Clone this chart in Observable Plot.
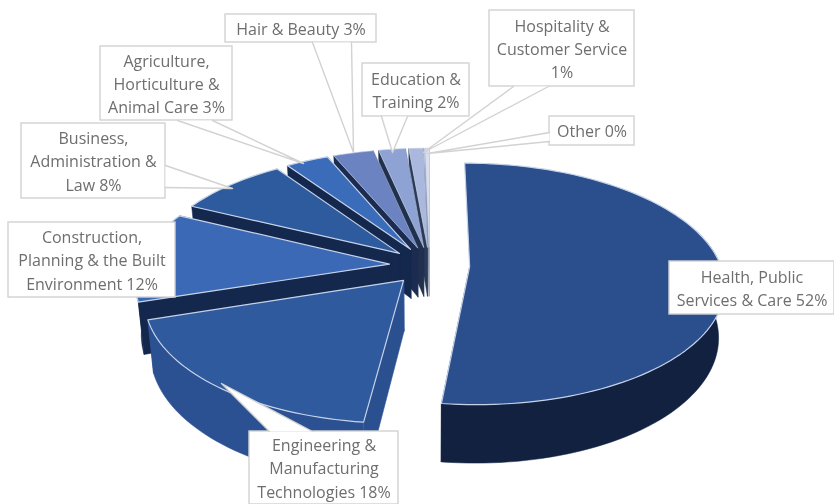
<!DOCTYPE html>
<html><head><meta charset="utf-8">
<script src="https://cdn.jsdelivr.net/npm/d3@7"></script>
<script src="https://cdn.jsdelivr.net/npm/@observablehq/plot@0.6"></script>
<style>html,body{margin:0;padding:0;background:#fff}svg{display:block}</style>
</head><body><div id="chart"></div>
<script>
const categories = ["Health, Public\nServices & Care 52%","Engineering &\nManufacturing\nTechnologies 18%","Construction,\nPlanning & the Built\nEnvironment 12%","Business,\nAdministration &\nLaw 8%","Agriculture,\nHorticulture &\nAnimal Care 3%","Hair & Beauty 3%","Education &\nTraining 2%","Hospitality &\nCustomer Service\n1%","Other 0%"];
const values = [51.9,18.1,12.2,8.2,3.2,3.0,2.0,1.1,0.3];
const topColors = ["#2a4f8c","#2f5a9e","#3b69b6","#2e5a9e","#3b6cb9","#6b84c1","#8fa2d4","#abb8dd","#d8deef"];
const arcColors = ["#11213f","#2c5192","#14274d","#14274d","#14274d","#1b2c50","#20304f","#2a3a58","#8a94aa"];
const cutColors = ["#11213f","#2b5090","#14274d","#14274d","#14274d","#1b2c50","#20304f","#2a3a58","#8a94aa"];
const boxes = [[669,261,834,314],[249,431,398,504],[8,222,175,297],[21,123,165,198],[100,46,232,120],[225,14,376,42],[362,63,469,116],[489,10,634,86],[549,116,634,145]];
const tails = [null,[[269,431],[221,383],[312,431]],null,[[165,165],[232,188],[165,187]],[[177,120],[303,163],[212,120]],[[312,42],[353,152],[351,42]],[[381,116],[392,152],[407,116]],[[513,86],[423,152],[548,86]],[[549,132],[427,153],[549,141]]];

const W=834,H=504,Cx=429,Cy=265,R=251,tilt=0.47,dist=7,explode=0.16,depth=50,shrink=0.02;
const total=d3.sum(values);
function project(u,v,z){
  const p=dist/(dist-v);
  return [Cx+R*u*p*(1-shrink*z),Cy+R*tilt*v*p+depth*z*p];
}
let cum=0;
const slices=values.map((val,i)=>{
  const a0=cum/total*2*Math.PI; cum+=val; const a1=cum/total*2*Math.PI;
  const mid=(a0+a1)/2, ou=explode*Math.sin(mid), ov=-explode*Math.cos(mid);
  const pt=(a,z)=>project(ou+Math.sin(a),ov-Math.cos(a),z);
  const n=Math.max(3,Math.ceil((a1-a0)/0.03));
  const angles=d3.range(n+1).map(k=>a0+(a1-a0)*k/n);
  const arc=z=>angles.map(a=>pt(a,z));
  const front=z=>angles.filter(a=>Math.cos(a)<0.35).map(a=>pt(a,z));
  const apex=z=>project(ou,ov,z);
  return {i,arc,front,apex};
});
const polys=[];
for(const i of [8,7,6,5,4,3,2,1,0]){
  const s=slices[i];
  const t=s.arc(0), b=s.arc(1), ft=s.front(0), fb=s.front(1);
  polys.push({pts:[s.apex(0),t[t.length-1],b[b.length-1],s.apex(1)],fill:cutColors[i],stroke:cutColors[i],w:0.5});
  if(i>0) polys.push({pts:[s.apex(0),t[0],b[0],s.apex(1)],fill:cutColors[i],stroke:cutColors[i],w:0.5});
  if(ft.length>1) polys.push({pts:[...ft,...fb.slice().reverse()],fill:arcColors[i],stroke:arcColors[i],w:0.5});
  polys.push({pts:[s.apex(0),...t],fill:topColors[i],stroke:"#c6d2e8",w:i<5?1.2:0.6});
}
const marks=polys.map(p=>Plot.line(p.pts,{x:d=>d[0],y:d=>d[1],fill:p.fill,stroke:p.stroke,strokeWidth:p.w,curve:"linear-closed"}));
const boxRows=boxes.map((b,i)=>({x1:b[0],y1:b[1],x2:b[2],y2:b[3],label:categories[i]}));
marks.push(Plot.rect(boxRows,{x1:"x1",y1:"y1",x2:"x2",y2:"y2",fill:"#fff",stroke:"#d2d2d2",strokeWidth:1.4}));
tails.filter(Boolean).forEach(t=>marks.push(Plot.line(t,{x:d=>d[0],y:d=>d[1],fill:"#fff",stroke:"#d2d2d2",strokeWidth:1.4})));
marks.push(Plot.text(boxRows,{x:d=>(d.x1+d.x2)/2,y:d=>(d.y1+d.y2)/2,dy:-1,text:"label",fill:"#6e6e6e",fontSize:16,lineHeight:1.45,lineAnchor:"middle",textAnchor:"middle",fontFamily:"'Open Sans',sans-serif"}));
const chart=Plot.plot({width:W,height:H,margin:0,x:{domain:[0,W],range:[0,W],axis:null},y:{domain:[0,H],range:[0,H],axis:null},style:{background:"#fff",filter:"blur(0.4px)"},marks});
document.getElementById("chart").append(chart);
</script></body></html>
